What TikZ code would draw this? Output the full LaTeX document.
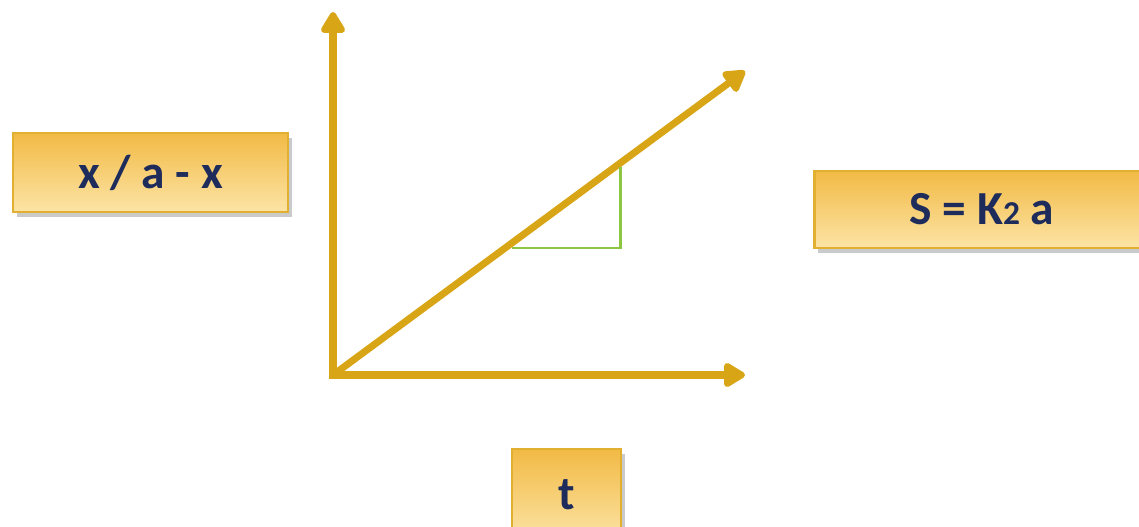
\documentclass[tikz,border=0pt]{standalone}
\usepackage{fontspec}
\setmainfont{Carlito}
\usepackage{xcolor}
\definecolor{axgold}{HTML}{D8A516}
\definecolor{boxtop}{HTML}{F2BA45}
\definecolor{boxbot}{HTML}{FCE4A6}
\definecolor{boxedge}{HTML}{E2B030}
\definecolor{txtnavy}{HTML}{1E2C5C}
\definecolor{slopegreen}{HTML}{8DC640}
\usetikzlibrary{arrows.meta,shadows}

\begin{document}
\begin{tikzpicture}[x=0.02cm,y=-0.02cm]
\tikzset{
 label box/.style={draw=boxedge,line width=1.2pt,top color=boxtop,bottom color=boxbot,
   drop shadow={shadow xshift=2pt,shadow yshift=-3pt,opacity=0.35,fill=black!60},
   font=\bfseries\fontsize{27}{30}\selectfont,text=txtnavy,inner sep=0pt},
 axis/.style={draw=axgold,line width=4pt,-{Triangle[width=0.54cm,length=0.48cm,round]}},
 slope/.style={draw=slopegreen,line width=1.7pt}
}
\useasboundingbox (0,0) rectangle (1139,527);
% axes
\coordinate (o) at (333,375);
\coordinate (ytip) at (333,12);
\coordinate (xtip) at (745,375);
\coordinate (dtip) at (745,71);
\draw[axis,shorten <=-2pt] (o) -- (ytip);
\draw[axis,shorten <=-2pt] (o) -- (xtip);
\draw[axis] (o) -- (dtip);
% slope triangle
\coordinate (s1) at (512,248);
\coordinate (s2) at (620,248);
\coordinate (s3) at (620,167);
\draw[slope] (s1) -- (s2) -- (s3);
% labels
\node[label box,minimum width=275*0.02cm,minimum height=79*0.02cm] (conc) at (150.5,172.5) {x / a - x\hspace{6pt}};
\node[label box,minimum width=335*0.02cm,minimum height=77*0.02cm] (rate) at (982,209.5) {S = K{\fontsize{19}{20}\selectfont 2} a};
\node[label box,minimum width=109*0.02cm,minimum height=92*0.02cm] (time) at (566.5,495) {t};
\end{tikzpicture}
\end{document}
